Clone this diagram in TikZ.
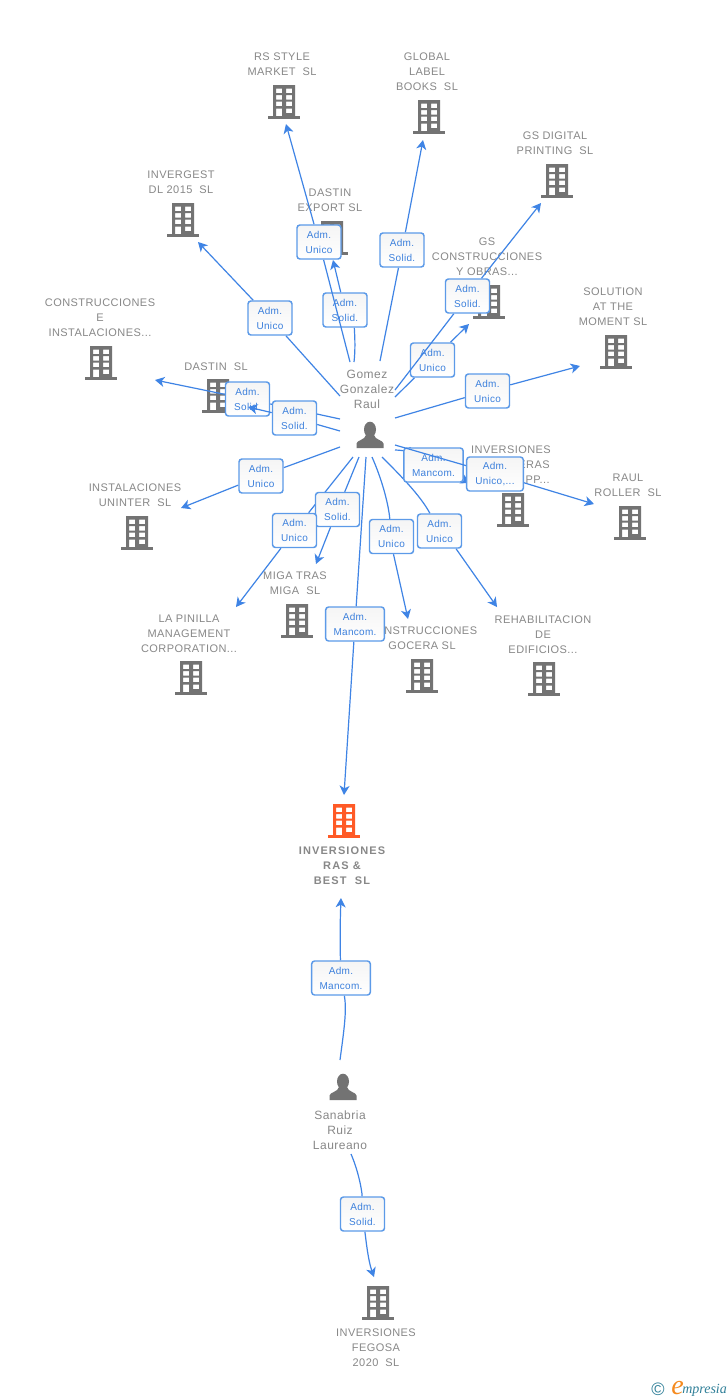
\documentclass[tikz,border=0pt]{standalone}
\usepackage{fontspec}
\usetikzlibrary{arrows.meta}
\setmainfont{Liberation Sans}
\newfontfamily\lblfont[LetterSpace=4]{Liberation Sans}
\newfontfamily\boldlbl[LetterSpace=10]{Liberation Sans Bold}
\newfontfamily\prsfont[LetterSpace=4]{Liberation Sans}
\newfontfamily\boxfont[LetterSpace=3]{Liberation Sans}
\newfontfamily\logofont{Liberation Serif Italic}
\definecolor{linkblue}{HTML}{3F84E5}
\definecolor{boxblue}{HTML}{5C9AE8}
\definecolor{boxtext}{HTML}{3C80DC}
\definecolor{labelgray}{HTML}{888888}
\definecolor{iconorange}{HTML}{FF5A26}
\definecolor{icongray}{HTML}{737373}
\definecolor{logoteal}{HTML}{2F7F98}
\definecolor{logoorange}{HTML}{F58A1F}
\pgfdeclarelayer{base}\pgfdeclarelayer{lineA}\pgfdeclarelayer{boxA}\pgfdeclarelayer{lineB}\pgfdeclarelayer{boxB}
\pgfsetlayers{base,lineA,boxA,lineB,boxB,main}
\tikzset{
  lnk/.style={draw=linkblue,line width=0.9pt},
  tip/.style={lnk,-{Stealth[length=7pt,width=7.5pt,inset=2pt]}},
  admbox/.style={draw=boxblue,line width=1.1pt,rounded corners=2.2pt,top color=black!4,bottom color=white,
    minimum width=33pt,minimum height=25.5pt,inner sep=0pt,align=center,text=boxtext,
    font=\boxfont\fontsize{7.5}{11.25}\selectfont},
  admwide/.style={admbox,minimum width=44pt},
  lbl/.style={inner sep=0pt,align=center,text=labelgray,yshift=-0.75pt,font=\lblfont\fontsize{8.25}{11.25}\selectfont},
  lblbold/.style={lbl,font=\boldlbl\fontsize{8.25}{11.25}\selectfont},
  prs/.style={lbl,font=\prsfont\fontsize{9}{11.25}\selectfont},
  pics/bld/.style={code={
    \fill[#1,even odd rule] (5,0) rectangle (27,31)
      (8,3.5) rectangle (14,8) (18,3.5) rectangle (24,8)
      (8,10) rectangle (14,14.5) (18,10) rectangle (24,14.5)
      (8,16.5) rectangle (14,21) (18,16.5) rectangle (24,21)
      (8,23.5) rectangle (14,31) (18,23.5) rectangle (24,28);
    \fill[#1] (0,31) rectangle (32,33.8);
  }},
  pics/person/.style={code={
    \fill[icongray] (0,7.5) ellipse[x radius=6,y radius=7.8];
    \fill[icongray] (-13.5,26) -- (-13.5,21.5) .. controls (-13,18) and (-5,18) .. (-4,13)
      -- (4,13) .. controls (5,18) and (13,18) .. (13.5,21.5) -- (13.5,26) -- cycle;
  }},
}
\begin{document}
\begin{tikzpicture}[x=0.75pt,y=-0.75pt]
\useasboundingbox (0,0) rectangle (728,1400);

\begin{pgfonlayer}{base}
\fill[white] (0,0) rectangle (728,1400);
% buildings
\pic (iRS)   at (268,85)   {bld=icongray};
\pic (iGL)   at (413,100)  {bld=icongray};
\pic (iGD)   at (541,164)  {bld=icongray};
\pic (iINV)  at (167,203)  {bld=icongray};
\pic (iDE)   at (316,221)  {bld=icongray};
\pic (iGSC)  at (473,285)  {bld=icongray};
\pic (iSOL)  at (600,335)  {bld=icongray};
\pic (iCEI)  at (85,346)   {bld=icongray};
\pic (iDS)   at (202,379)  {bld=icongray};
\pic (iUNI)  at (121,516)  {bld=icongray};
\pic (iPIN)  at (175,661)  {bld=icongray};
\pic (iMIG)  at (281,604)  {bld=icongray};
\pic (iGOC)  at (406,659)  {bld=icongray};
\pic (iREH)  at (528,662)  {bld=icongray};
\pic (iIEP)  at (497,493)  {bld=icongray};
\pic (iRAU)  at (614,506)  {bld=icongray};
\pic (iRAS)  at (328,804)  {bld=iconorange};
\pic (iFEG)  at (362,1286) {bld=icongray};
\pic (pGOM)  at (370,422)  {person};
\pic (pSAN)  at (343,1074) {person};
% labels
\node[lbl] (lRS)  at (282,63.5) {RS STYLE\\MARKET\ \ SL};
\node[lbl] (lGL)  at (427,71)   {GLOBAL\\LABEL\\BOOKS\ \ SL};
\node[lbl] (lGD)  at (555,142.5){GS DIGITAL\\PRINTING\ \ SL};
\node[lbl] (lINV) at (181,181.5){INVERGEST\\DL 2015\ \ SL};
\node[lbl] (lDE)  at (330,199.5){DASTIN\\EXPORT SL};
\node[lbl] (lGSC) at (487,256)  {GS\\CONSTRUCCIONES\\Y OBRAS...};
\node[lbl] (lSOL) at (613,306)  {SOLUTION\\AT THE\\MOMENT SL};
\node[lbl] (lCEI) at (100,317)  {CONSTRUCCIONES\\E\\INSTALACIONES...};
\node[lbl] (lDS)  at (216,366)  {DASTIN\ \ SL};
\node[lbl] (lUNI) at (135,494.5){INSTALACIONES\\UNINTER\ \ SL};
\node[lbl] (lPIN) at (189,633)  {LA PINILLA\\MANAGEMENT\\CORPORATION...};
\node[lbl] (lMIG) at (295,582.5){MIGA TRAS\\MIGA\ \ SL};
\node[lbl] (lGOC) at (422,637.5){CONSTRUCCIONES\\GOCERA SL};
\node[lbl] (lREH) at (543,634)  {REHABILITACION\\DE\\EDIFICIOS...};
\node[lbl] (lIEP) at (511,449)  {INVERSIONES};
\node[lbl,anchor=east] (lIEP2) at (550,464) {ERAS};
\node[lbl,anchor=east] (lIEP3) at (550,479) {PP...};
\node[lbl] (lRAU) at (628,484.5){RAUL\\ROLLER\ \ SL};
\node[lblbold] (lRAS) at (342,865) {INVERSIONES\\RAS \&\\BEST\ \ SL};
\node[lbl] (lFEG) at (376,1347) {INVERSIONES\\FEGOSA\\2020\ \ SL};
\node[prs] (lGOM) at (367,388)  {Gomez\\Gonzalez\\Raul};
\node[prs] (lSAN) at (340,1129) {Sanabria\\Ruiz\\Laureano};
% logo
\node[inner sep=0pt,text=logoteal,font=\fontsize{13.5}{13.5}\selectfont] (logoC) at (658,1389) {\textcopyright};
\node[inner sep=0pt,anchor=base west,text=logoorange,font=\logofont\fontsize{21}{21}\selectfont] (logoE) at (671,1394.5) {e};
\node[inner sep=0pt,anchor=base west,text=logoteal,font=\logofont\fontsize{10.5}{10.5}\selectfont] (logoM) at (682,1393) {mpresia};
\end{pgfonlayer}

% free ends
\coordinate (s1) at (340,396);   \coordinate (t1) at (198,242);
\coordinate (s2) at (350,362);   \coordinate (t2) at (286,124);
\coordinate (s3) at (354,362);   \coordinate (t3) at (333,260);
\coordinate (s4) at (380,361);   \coordinate (t4) at (423,140);
\coordinate (s5) at (395,390);   \coordinate (t5) at (541,203);
\coordinate (s6) at (395,397);   \coordinate (t6) at (469,324);
\coordinate (s7) at (395,418);   \coordinate (t7) at (580,366);
\coordinate (s8) at (395,445);   \coordinate (t8) at (594,504);
\coordinate (s9) at (395,450);   \coordinate (t9) at (470,483);
\coordinate (s10) at (382,457);  \coordinate (t10) at (497,607);
\coordinate (s11) at (372,457);  \coordinate (t11) at (408,619);
\coordinate (s12) at (366,457);  \coordinate (t12) at (344,795);
\coordinate (s13) at (359,457);  \coordinate (t13) at (316,564);
\coordinate (s14) at (353,457);  \coordinate (t14) at (236,607);
\coordinate (s15) at (340,447);  \coordinate (t15) at (181,508);
\coordinate (s16) at (340,419);  \coordinate (t16) at (155,380);
\coordinate (s17) at (340,431);  \coordinate (t17) at (248,407);
\coordinate (s18) at (340,1060); \coordinate (t18) at (341,898);
\coordinate (s19) at (351,1154); \coordinate (t19) at (374,1277);

% boxes
\begin{pgfonlayer}{boxA}
\node[admbox]  (b1)  at (270,318)   {Adm.\\Unico};
\node[admbox]  (b3)  at (345,310)   {Adm.\\Solid.};
\node[admbox]  (b4)  at (402,250)   {Adm.\\Solid.};
\node[admbox]  (b6)  at (432.5,360) {Adm.\\Unico};
\node[admbox]  (b7)  at (487.5,391) {Adm.\\Unico};
\node[admwide,minimum width=44.5pt] (b9) at (433.5,465) {Adm.\\Mancom.};
\node[admbox]  (b10) at (439.5,531) {Adm.\\Unico};
\node[admbox]  (b11) at (391.5,536.5) {Adm.\\Unico};
\node[admwide] (b12) at (355,624)   {Adm.\\Mancom.};
\node[admbox]  (b13) at (337.5,509.5) {Adm.\\Solid.};
\node[admbox]  (b15) at (261,476)   {Adm.\\Unico};
\node[admbox]  (b16) at (247.5,399) {Adm.\\Solid.};
\node[admwide] (b18) at (341,978)   {Adm.\\Mancom.};
\node[admbox]  (b19) at (362.5,1214){Adm.\\Solid.};
\end{pgfonlayer}
\begin{pgfonlayer}{boxB}
\node[admbox]  (b2)  at (319,242)   {Adm.\\Unico};
\node[admbox]  (b5)  at (467.5,296) {Adm.\\Solid.};
\node[admwide,minimum width=42.5pt] (b8) at (495,474) {Adm.\\Unico,...};
\node[admbox]  (b14) at (294.5,530.5) {Adm.\\Unico};
\node[admbox]  (b17) at (294.5,418) {Adm.\\Solid.};
\end{pgfonlayer}

% connectors under the first boxes
\begin{pgfonlayer}{lineA}
\draw[lnk] (s1) -- (b1);  \draw[tip] (b1) -- (t1);
\draw[lnk] (s3) .. controls (356,345) and (354,327) .. (b3);
\draw[lnk] (s4) -- (b4);  \draw[tip] (b4) -- (t4);
\draw[lnk] (s6) -- (b6);  \draw[tip] (b6) -- (t6);
\draw[lnk] (s7) -- (b7);  \draw[tip] (b7) -- (t7);
\draw[lnk] (s9) .. controls (405,450) and (420,455) .. (b9);  \draw[tip] (b9) -- (t9);
\draw[lnk] (s10) .. controls (400,475) and (420,495) .. (b10);
\draw[tip] ([xshift=12.4pt]b10.south) -- (t10);
\draw[lnk] (s11) .. controls (380,475) and (388,500) .. (b11);
\draw[tip] ([xshift=1.5pt]b11.south) -- (t11);
\draw[lnk] (s12) -- (b12); \draw[tip] (b12) -- (t12);
\draw[lnk] (s13) -- (b13); \draw[tip] (b13) -- (t13);
\draw[lnk] (s14) -- (b14); \draw[tip] (b14) -- (t14);
\draw[lnk] (s15) -- (b15); \draw[tip] (b15) -- (t15);
\draw[lnk] (s16) -- (b16); \draw[tip] (b16) -- (t16);
\draw[lnk] (s18) .. controls (344,1030) and (347,1010) .. (b18);
\draw[tip] (b18) .. controls (340,945) and (340,925) .. (t18);
\draw[lnk] (s19) .. controls (358,1170) and (362,1190) .. (b19);
\draw[tip] (b19) .. controls (366,1240) and (368,1260) .. (t19);
\end{pgfonlayer}

% connectors that run over the first boxes
\begin{pgfonlayer}{lineB}
\draw[lnk] (s2) -- (b2);  \draw[tip] (b2) -- (t2);
\draw[lnk] (s5) -- (b5);  \draw[tip] (b5) -- (t5);
\draw[lnk] (s8) -- (b8);  \draw[tip] (b8) -- (t8);
\draw[lnk] (s17) -- (b17); \draw[tip] (b17) -- (t17);
\end{pgfonlayer}

% this arrowhead lies over the box above it
\draw[tip] (b3) -- (t3);
\end{tikzpicture}
\end{document}
